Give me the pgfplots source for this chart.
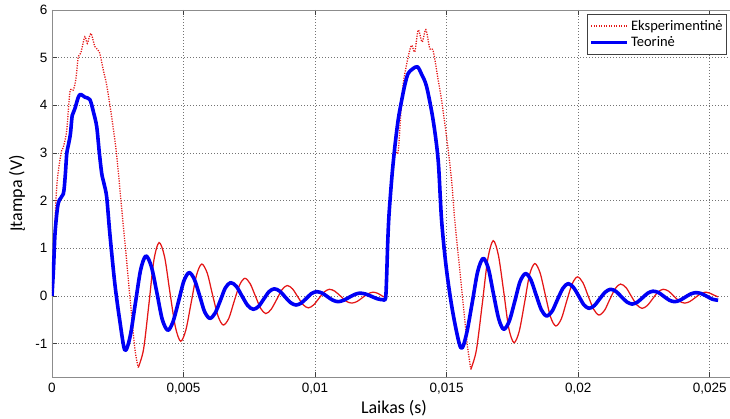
\documentclass[border=0pt]{standalone}
\usepackage{fontspec}
\setmainfont{Carlito}
\newfontfamily\tickfont{Liberation Sans}
\usepackage{pgfplots}
\pgfplotsset{compat=1.18}

\definecolor{expred}{RGB}{228,22,22}
\definecolor{theoblue}{RGB}{0,0,245}

\tikzset{
  expdots/.style={expred, line width=1.3pt, dash pattern=on 1.2pt off 1.3pt, smooth},
  expline/.style={expred, line width=1.25pt, smooth},
  theoline/.style={theoblue, line width=3.6pt, line join=round, smooth},
}

\begin{document}
\begin{tikzpicture}
\begin{axis}[
  scale only axis, width=684pt, height=367pt,
  xmin=0, xmax=0.026, ymin=-1.7, ymax=6,
  xtick={0,0.005,0.01,0.015,0.02,0.025},
  xticklabels={0,{0,005},{0,01},{0,015},{0,02},{0,025}},
  ytick={-1,0,1,2,3,4,5,6},
  yticklabels={-1,0,1,2,3,4,5,6},
  scaled x ticks=false,
  tick label style={font=\tickfont\fontsize{13.5}{15}\selectfont},
  xticklabel style={yshift=-3pt},
  yticklabel style={xshift=-1pt},
  tick align=inside, major tick length=5pt,
  tick style={black!75, line width=0.6pt},
  axis line style={black!45, line width=0.8pt},
  grid=major,
  major grid style={black!55, line width=0.6pt, dash pattern=on 1pt off 2pt},
  xlabel={Laikas (s)}, ylabel={Įtampa (V)},
  every axis x label/.style={at={([yshift=-31pt]axis description cs:0.5,0)}, anchor=center,
    font=\fontsize{18}{20}\selectfont},
  every axis y label/.style={at={([xshift=-35pt]axis description cs:0,0.5)}, anchor=center, rotate=90,
    font=\fontsize{18}{20}\selectfont},
  legend style={at={(axis description cs:0.9868,0.989)}, anchor=north east,
    draw=black!75, line width=0.6pt, fill=white,
    font=\fontsize{14.5}{16}\selectfont,
    inner xsep=2pt, inner ysep=4pt, row sep=1pt},
  legend cell align=left,
  legend image code/.code={\draw[#1] (0pt,0pt) -- (36pt,0pt);},
]
\coordinate (SW) at (rel axis cs:0,0);
\coordinate (NW) at (rel axis cs:0,1);

% measured signal, first pulse
\addplot[expdots] coordinates {
(0,0) (0.00008,1.0) (0.00014,1.9) (0.00020,2.42) (0.00030,2.85) (0.00037,3.05)
(0.00043,3.12) (0.00056,3.47) (0.00068,4.28) (0.00081,4.32) (0.00091,4.56)
(0.00100,5.02) (0.00109,5.09) (0.00125,5.44) (0.00134,5.30) (0.00148,5.51)
(0.00163,5.23) (0.00180,5.12) (0.00195,4.74) (0.00208,4.42) (0.00227,3.75)
(0.00246,2.95) (0.00262,2.00) (0.00281,0.90) (0.00300,-0.25) (0.00316,-1.15)
(0.00328,-1.50)
};
\addlegendentry{Eksperimentinė}

% measured signal, ringing after the first pulse
\addplot[expline, forget plot] coordinates {
(0.00328,-1.50) (0.00348,-1.12) (0.00368,-0.19) (0.00387,0.74)
(0.00407,1.12) (0.00428,0.82) (0.00448,0.085) (0.00469,-0.65)
(0.00489,-0.95) (0.00509,-0.71) (0.00529,-0.14) (0.00549,0.43)
(0.00569,0.67) (0.00590,0.48) (0.00610,0.03) (0.00631,-0.42)
(0.00651,-0.61) (0.00672,-0.47) (0.00692,-0.12) (0.00713,0.23)
(0.00733,0.37) (0.00753,0.26) (0.00773,0.00) (0.00793,-0.26)
(0.00813,-0.37) (0.00833,-0.28) (0.00854,-0.075) (0.00874,0.13)
(0.00894,0.22) (0.00914,0.15) (0.00934,-0.015) (0.00954,-0.18)
(0.00974,-0.25) (0.00994,-0.19) (0.01014,-0.055) (0.01034,0.08)
(0.01054,0.14) (0.01075,0.10) (0.01097,-0.005) (0.01118,-0.11)
(0.01139,-0.15) (0.01160,-0.115) (0.01180,-0.035) (0.01201,0.045)
(0.01221,0.08) (0.01240,0.05) (0.01255,0.00) (0.01268,-0.03)
};

% measured signal, second pulse
\addplot[expdots, forget plot] coordinates {
(0.01268,-0.03) (0.01272,0.4) (0.01277,1.2) (0.01290,2.5) (0.01303,3.05)
(0.01316,3.03) (0.01329,4.10) (0.01337,4.53) (0.01354,5.02) (0.01367,5.26)
(0.01379,5.12) (0.01392,5.58) (0.01407,5.33) (0.01421,5.59) (0.01436,5.19)
(0.01449,5.14) (0.01468,4.53) (0.01481,4.10) (0.01500,3.33) (0.01519,2.42)
(0.01531,1.58) (0.01547,0.70) (0.01563,-0.17) (0.01578,-1.00) (0.01592,-1.54)
};

% measured signal, ringing after the second pulse
\addplot[expline, forget plot] coordinates {
(0.01592,-1.54) (0.01613,-1.14) (0.01635,-0.19) (0.01656,0.76)
(0.01677,1.16) (0.01697,0.85) (0.01717,0.09) (0.01736,-0.67)
(0.01756,-0.98) (0.01776,-0.74) (0.01796,-0.15) (0.01815,0.44)
(0.01835,0.68) (0.01855,0.49) (0.01875,0.025) (0.01895,-0.44)
(0.01915,-0.63) (0.01936,-0.48) (0.01956,-0.115) (0.01977,0.25)
(0.01997,0.40) (0.02018,0.28) (0.02038,0.00) (0.02059,-0.28)
(0.02079,-0.40) (0.02100,-0.305) (0.02120,-0.075) (0.02141,0.155)
(0.02161,0.25) (0.02182,0.175) (0.02202,-0.005) (0.02223,-0.185)
(0.02243,-0.26) (0.02263,-0.20) (0.02283,-0.06) (0.02303,0.08)
(0.02323,0.14) (0.02344,0.10) (0.02364,-0.005) (0.02385,-0.11)
(0.02405,-0.15) (0.02425,-0.115) (0.02445,-0.035) (0.02465,0.045)
(0.02485,0.08) (0.02500,0.06) (0.02515,0.02) (0.02532,-0.02)
};

% model response
\addplot[theoline] coordinates {
(0,0) (0.00006,0.6) (0.00012,1.35) (0.00024,1.95) (0.00043,2.14) (0.00050,2.5)
(0.00056,2.98) (0.00062,3.16) (0.00070,3.4) (0.00077,3.79) (0.00087,3.93)
(0.00100,4.17) (0.00109,4.23) (0.00125,4.17) (0.00144,4.12) (0.00158,3.85)
(0.00170,3.55) (0.00180,3.0) (0.00189,2.57) (0.00198,2.35) (0.00208,2.07)
(0.00220,1.30) (0.00239,0.25) (0.00258,-0.53) (0.00277,-1.14)
(0.00297,-0.85) (0.00317,-0.15) (0.00337,0.55)
(0.00357,0.84) (0.00378,0.61) (0.00399,0.06) (0.00419,-0.49)
(0.00440,-0.72) (0.00460,-0.54) (0.00481,-0.115) (0.00501,0.31)
(0.00521,0.49) (0.00541,0.35) (0.00561,0.01) (0.00580,-0.33)
(0.00600,-0.47) (0.00620,-0.36) (0.00640,-0.095) (0.00659,0.17)
(0.00679,0.28) (0.00701,0.20) (0.00722,0.00) (0.00744,-0.20)
(0.00765,-0.28) (0.00785,-0.22) (0.00805,-0.065) (0.00825,0.09)
(0.00845,0.15) (0.00866,0.10) (0.00886,-0.02) (0.00907,-0.14)
(0.00927,-0.19) (0.00947,-0.15) (0.00967,-0.05) (0.00986,0.05)
(0.01006,0.09) (0.01027,0.06) (0.01047,-0.015) (0.01068,-0.09)
(0.01088,-0.12) (0.01109,-0.09) (0.01129,-0.03) (0.01150,0.03)
(0.01170,0.06) (0.01192,0.04) (0.01215,-0.01) (0.01237,-0.06)
(0.01259,-0.08) (0.01268,-0.05) (0.01272,0.40) (0.01276,1.10)
(0.01281,1.70) (0.01292,2.50) (0.01303,3.12) (0.01316,3.70) (0.01329,4.10)
(0.01342,4.45) (0.01354,4.67) (0.01370,4.76) (0.01389,4.81) (0.01405,4.65)
(0.01424,4.39) (0.01449,3.68) (0.01468,2.84) (0.01481,1.58) (0.01500,0.53)
(0.01525,-0.39) (0.01554,-1.09)
(0.01575,-0.81) (0.01597,-0.15) (0.01618,0.51)
(0.01639,0.79) (0.01659,0.57) (0.01678,0.045) (0.01698,-0.48)
(0.01717,-0.70) (0.01738,-0.53) (0.01759,-0.115) (0.01779,0.30)
(0.01800,0.47) (0.01820,0.34) (0.01840,0.025) (0.01860,-0.29)
(0.01880,-0.42) (0.01901,-0.32) (0.01921,-0.08) (0.01942,0.16)
(0.01962,0.26) (0.01982,0.18) (0.02002,0.00) (0.02021,-0.18)
(0.02041,-0.26) (0.02062,-0.20) (0.02082,-0.06) (0.02103,0.08)
(0.02123,0.14) (0.02144,0.095) (0.02164,-0.015) (0.02185,-0.125)
(0.02205,-0.17) (0.02225,-0.13) (0.02245,-0.035) (0.02265,0.06)
(0.02285,0.10) (0.02306,0.07) (0.02326,-0.01) (0.02347,-0.09)
(0.02367,-0.12) (0.02387,-0.09) (0.02407,-0.025) (0.02427,0.04)
(0.02447,0.07) (0.02468,0.05) (0.02490,-0.01) (0.02511,-0.07)
(0.02532,-0.09)
};
\addlegendentry{Teorinė}
\end{axis}
\pgfresetboundingbox
\path[use as bounding box] ([xshift=-52pt,yshift=-42pt]SW) rectangle ([xshift=678pt,yshift=10pt]NW);
\end{tikzpicture}
\end{document}
